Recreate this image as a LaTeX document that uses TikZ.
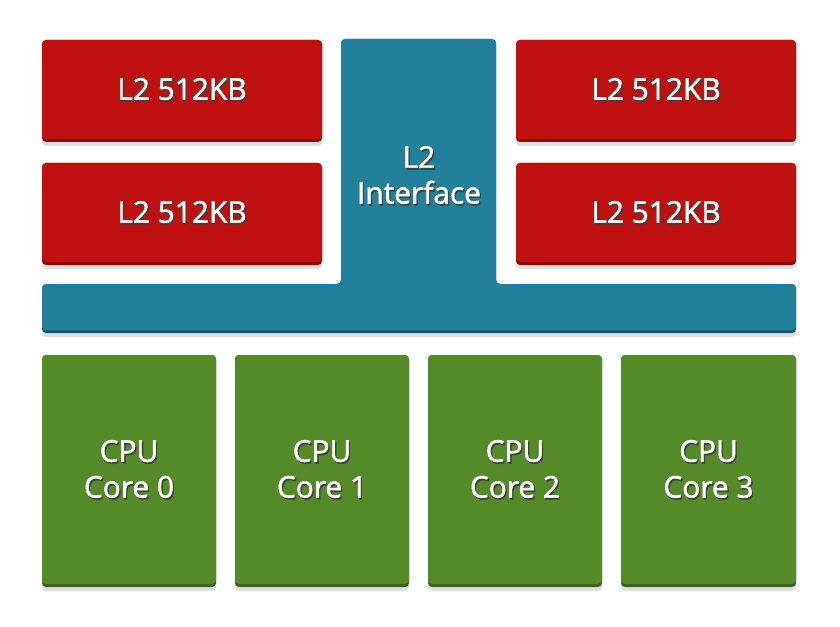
\documentclass[tikz,border=0pt]{standalone}
\usepackage{fontspec}
\newfontfamily\lblfont[BoldFont={Open Sans},BoldFeatures={FakeBold=1.6}]{Open Sans}
\usetikzlibrary{shadows}
\definecolor{redm}{HTML}{BE100E}
\definecolor{redd}{HTML}{8E0A08}
\definecolor{bluem}{HTML}{23809B}
\definecolor{blued}{HTML}{175A6E}
\definecolor{greenm}{HTML}{548B28}
\definecolor{greend}{HTML}{3A6419}
\newcommand{\sh}[1]{\makebox[0pt][l]{\raisebox{-1.8bp}[0pt][0pt]{\hspace{1.3bp}\textcolor{black!75}{#1}}}#1}
\tikzset{
  boxbase/.style={rounded corners=4bp, drop shadow={shadow xshift=0bp, shadow yshift=-4bp, opacity=0.25}},
  lbl/.style={text=white, font=\lblfont\bfseries\fontsize{30}{36}\selectfont, align=center, inner sep=0pt},
}
\newcommand{\mybox}[8]{%
  \fill[boxbase, #6] (#2,#3) rectangle (#4,#5);
  \fill[rounded corners=4bp, #7] (#2,#3) rectangle (#4,#5-3);
  \node[lbl] (#1) at ({(#2+#4)/2},{(#3+#5)/2-2}) {#8};
}
\begin{document}
\begin{tikzpicture}[x=1bp,y=-1bp]
\useasboundingbox (0,0) rectangle (840,627);
\fill[white] (0,0) rectangle (840,627);
% L2 caches
\mybox{l2a}{42}{40}{322}{142}{redd}{redm}{\sh{L2 512KB}}
\mybox{l2b}{42}{163}{322}{265}{redd}{redm}{\sh{L2 512KB}}
\mybox{l2c}{516}{40}{796}{142}{redd}{redm}{\sh{L2 512KB}}
\mybox{l2d}{516}{163}{796}{265}{redd}{redm}{\sh{L2 512KB}}
% L2 interface T shape
\fill[boxbase, blued] (341,39) -- (496,39) -- (496,284) -- (796,284) -- (796,333) -- (42,333) -- (42,284) -- (341,284) -- cycle;
\fill[rounded corners=4bp, bluem] (341,39) -- (496,39) -- (496,284) -- (796,284) -- (796,330) -- (42,330) -- (42,284) -- (341,284) -- cycle;
\node[lbl] (l2if) at (419,175) {\sh{L2}\\\sh{Interface}};
% CPU cores
\mybox{c0}{42}{355}{216}{587}{greend}{greenm}{\sh{CPU}\\\sh{Core 0}}
\mybox{c1}{235}{355}{409}{587}{greend}{greenm}{\sh{CPU}\\\sh{Core 1}}
\mybox{c2}{428}{355}{602}{587}{greend}{greenm}{\sh{CPU}\\\sh{Core 2}}
\mybox{c3}{621}{355}{796}{587}{greend}{greenm}{\sh{CPU}\\\sh{Core 3}}
\end{tikzpicture}
\end{document}
